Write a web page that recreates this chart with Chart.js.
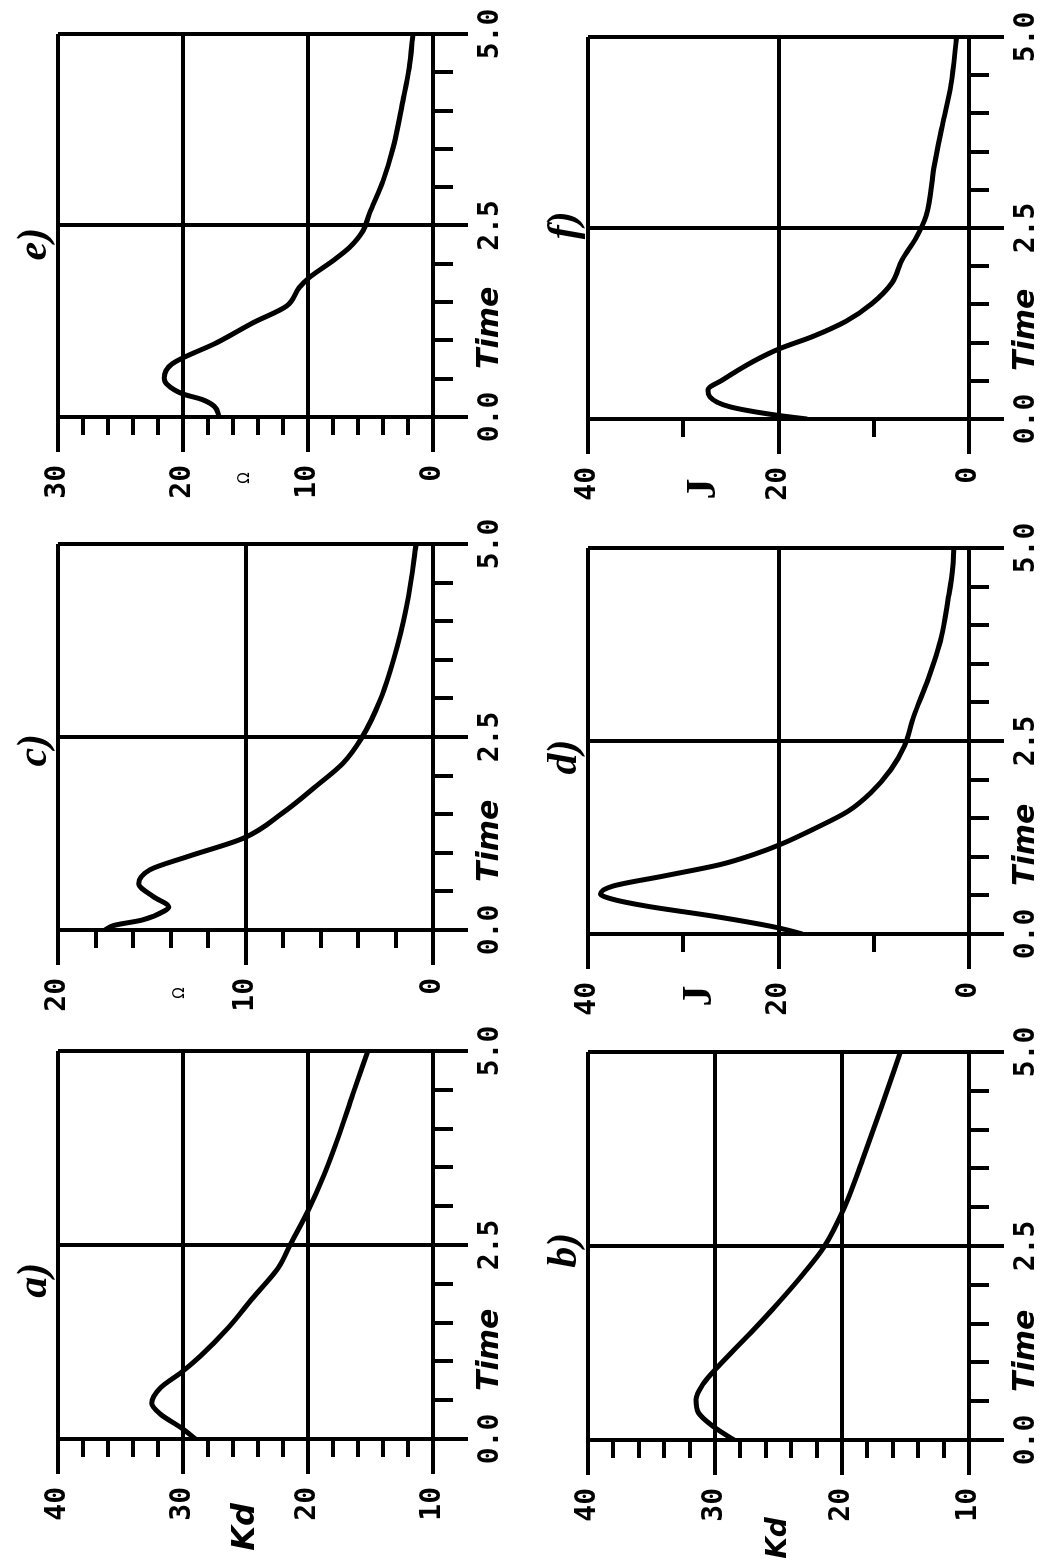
<!DOCTYPE html>
<html>
<head>
<meta charset="utf-8">
<title>Kd, Omega and J against time</title>
<script src="https://cdn.jsdelivr.net/npm/chart.js@4.4.0/dist/chart.umd.min.js"></script>
<style>
    html, body {
        margin: 0;
        padding: 0;
        background: #fff;
        width: 1041px;
        height: 1565px;
        overflow: hidden;
    }
    /* the figure is printed on its side, so the whole sheet is turned */
    #sheet {
        position: absolute;
        left: 0;
        top: 0;
        width: 1565px;
        height: 1041px;
        transform-origin: 0 0;
        transform: translate(0, 1565px) rotate(-90deg);
    }
    .panel {
        position: absolute;
    }
</style>
</head>
<body>
<div id="sheet">
    <canvas id="panel-a" class="panel"></canvas>
    <canvas id="panel-b" class="panel"></canvas>
    <canvas id="panel-c" class="panel"></canvas>
    <canvas id="panel-d" class="panel"></canvas>
    <canvas id="panel-e" class="panel"></canvas>
    <canvas id="panel-f" class="panel"></canvas>
</div>
<script>
// Time axis (shared)
const timeTicks = [0, 0.5, 1.0, 1.5, 2.0, 2.5, 3.0, 3.5, 4.0, 4.5, 5.0];
const timeMajor = [0, 2.5, 5.0];
const timeLabels = ['0.0', '2.5', '5.0'];

// Value axes
const kdTicks = [10, 12, 14, 16, 18, 20, 22, 24, 26, 28, 30, 32, 34, 36, 38, 40];
const kdMajor = [10, 20, 30, 40];
const kdLabels = ['10', '20', '30', '40'];

const omegaCTicks = [0, 2, 4, 6, 8, 10, 12, 14, 16, 18, 20];
const omegaCMajor = [0, 10, 20];
const omegaCLabels = ['0', '10', '20'];

const omegaETicks = [0, 2, 4, 6, 8, 10, 12, 14, 16, 18, 20, 22, 24, 26, 28, 30];
const omegaEMajor = [0, 10, 20, 30];
const omegaELabels = ['0', '10', '20', '30'];

const jTicks = [0, 10, 20, 30, 40];
const jMajor = [0, 20, 40];
const jLabels = ['0', '20', '40'];

// a) Kd
const timeA = [0, 0.14, 0.32, 0.46, 0.66, 0.85, 1.07, 1.43, 1.82, 2.2, 2.51, 2.94, 3.41, 3.88, 4.45, 5.0];
const kdA = [29.0, 30.1, 31.8, 32.5, 31.8, 30.2, 28.6, 26.4, 24.4, 22.4, 21.4, 20.0, 18.7, 17.6, 16.4, 15.2];

// b) Kd
const timeB = [0, 0.17, 0.35, 0.52, 0.73, 0.94, 1.38, 1.77, 2.15, 2.49, 3.0, 3.65, 4.29, 5.0];
const kdB = [28.5, 30.1, 31.3, 31.5, 30.9, 29.8, 27.2, 25.0, 23.0, 21.4, 19.8, 18.3, 16.9, 15.4];

// c) Omega
const timeC = [0, 0.06, 0.13, 0.25, 0.3, 0.43, 0.6, 0.78, 0.95, 1.19, 1.52, 1.87, 2.16, 2.49, 2.99, 3.68, 4.33, 5.0];
const omegaC = [17.5, 17.0, 15.5, 14.3, 14.1, 14.9, 15.7, 15.1, 13.1, 10.1, 8.0, 6.2, 4.8, 3.8, 2.8, 1.9, 1.3, 0.9];

// d) J
const timeD = [0, 0.05, 0.1, 0.23, 0.36, 0.45, 0.52, 0.62, 0.75, 0.9, 1.03, 1.16, 1.36, 1.59, 1.83, 2.13, 2.43, 2.82, 3.3, 3.85, 4.33, 4.75, 5.0];
const jD = [17.5, 19.0, 20.8, 26.8, 33.8, 37.4, 38.7, 37.4, 32.1, 26.1, 22.6, 19.8, 16.3, 12.7, 10.3, 8.2, 6.8, 5.8, 4.3, 2.9, 2.2, 1.7, 1.6];

// e) Omega
const timeE = [0, 0.14, 0.23, 0.3, 0.43, 0.51, 0.69, 0.97, 1.23, 1.45, 1.69, 1.82, 2.04, 2.21, 2.43, 2.65, 3.08, 3.51, 4.13, 4.56, 5.0];
const omegaE = [17.1, 17.5, 18.5, 20.0, 21.3, 21.5, 20.9, 17.3, 14.4, 11.7, 10.7, 9.9, 8.0, 6.7, 5.6, 5.1, 4.0, 3.2, 2.4, 1.9, 1.6];

// f) J
const timeF = [0, 0.05, 0.16, 0.29, 0.38, 0.51, 0.75, 0.92, 1.08, 1.28, 1.51, 1.78, 2.09, 2.36, 2.66, 3.28, 3.84, 4.37, 5.0];
const jF = [17.0, 20.2, 25.1, 27.2, 27.4, 25.9, 22.7, 19.9, 16.4, 12.9, 10.2, 8.1, 7.0, 5.6, 4.5, 3.7, 2.8, 1.9, 1.3];

// Layout of the six plot frames on the unturned sheet
const panels = [
    { id: 'panel-a', label: 'a)', labelAt: 2.27, title: 'Kd', titleAt: 25, titleOffset: 88, titleFont: 'italic bold 32px "DejaVu Sans"',
      time: timeA, values: kdA, ticks: kdTicks, major: kdMajor, labels: kdLabels,
      area: { left: 126, top: 58, width: 388, height: 375 } },
    { id: 'panel-b', label: 'b)', labelAt: 2.67, title: 'Kd', titleAt: 25, titleOffset: 98, titleFont: 'italic bold 28px "DejaVu Sans"',
      time: timeB, values: kdB, ticks: kdTicks, major: kdMajor, labels: kdLabels,
      area: { left: 125, top: 588, width: 388, height: 381 } },
    { id: 'panel-c', label: 'c)', labelAt: 2.54, title: 'Ω', titleAt: 13.5, titleOffset: 63, titleFont: '15px "DejaVu Sans"',
      time: timeC, values: omegaC, ticks: omegaCTicks, major: omegaCMajor, labels: omegaCLabels,
      area: { left: 635, top: 58, width: 386, height: 375 } },
    { id: 'panel-d', label: 'd)', labelAt: 2.52, title: 'J', titleAt: 28.2, titleOffset: 62, titleFont: 'bold 42px "Liberation Serif"',
      time: timeD, values: jD, ticks: jTicks, major: jMajor, labels: jLabels,
      area: { left: 631, top: 588, width: 386, height: 381 } },
    { id: 'panel-e', label: 'e)', labelAt: 2.47, title: 'Ω', titleAt: 15, titleOffset: 61, titleFont: '15px "DejaVu Sans"',
      time: timeE, values: omegaE, ticks: omegaETicks, major: omegaEMajor, labels: omegaELabels,
      area: { left: 1148, top: 58, width: 383, height: 375 } },
    { id: 'panel-f', label: 'f)', labelAt: 2.72, title: 'J', titleAt: 27.8, titleOffset: 70, titleFont: 'bold 42px "Liberation Serif"',
      time: timeF, values: jF, ticks: jTicks, major: jMajor, labels: jLabels,
      area: { left: 1146, top: 588, width: 382, height: 381 } }
];

const PAD_LEFT = 15;
const Y_AXIS_WIDTH = 110;
const PAD_TOP = 58;
const PAD_RIGHT = 35;
const X_AXIS_HEIGHT = 72;

const tickFont = { family: 'DejaVu Sans Mono', size: 28, weight: 'bold' };

// Is this value one of the long (labelled) ticks?
function isMajor(value, majors) {
    return majors.some(m => Math.abs(m - value) < 1e-6);
}

function labelFor(value, majors, labels) {
    const i = majors.findIndex(m => Math.abs(m - value) < 1e-6);
    return i >= 0 ? labels[i] : '';
}

// Panel letter, value name and "Time" are drawn next to the axes
const panelText = {
    id: 'panelText',
    afterDraw(chart, args, opts) {
        const { ctx, chartArea } = chart;
        const xScale = chart.scales.x;
        const yScale = chart.scales.y;
        ctx.save();
        ctx.fillStyle = '#000';

        ctx.font = 'italic bold 42px "Liberation Serif"';
        ctx.textAlign = 'right';
        ctx.textBaseline = 'bottom';
        ctx.fillText(opts.label, xScale.getPixelForValue(opts.labelAt), chartArea.top - 2);

        ctx.font = opts.titleFont;
        ctx.textAlign = 'center';
        ctx.textBaseline = 'middle';
        ctx.fillText(opts.title, chartArea.left - opts.titleOffset, yScale.getPixelForValue(opts.titleAt));

        ctx.font = 'italic bold 30px "DejaVu Sans"';
        ctx.textAlign = 'left';
        ctx.fillText('Time', xScale.getPixelForValue(0) + 48, chartArea.bottom + 57);
        ctx.restore();
    }
};

// minorDash keeps only the 18px next to the frame of the 35px tick line
function gridFor(majors, minorDash) {
    return {
        color: c => (c.tick && isMajor(c.tick.value, majors)) ? '#000' : 'rgba(0,0,0,0)',
        lineWidth: 4,
        borderDash: [],
        drawTicks: true,
        tickLength: 35,
        tickColor: '#000',
        tickWidth: 4,
        tickBorderDash: c => (c.tick && isMajor(c.tick.value, majors)) ? [] : minorDash
    };
}

function makePanel(p) {
    const canvas = document.getElementById(p.id);
    const w = p.area.width + PAD_LEFT + Y_AXIS_WIDTH + PAD_RIGHT;
    const h = p.area.height + PAD_TOP + X_AXIS_HEIGHT;
    canvas.width = w;
    canvas.height = h;
    canvas.style.width = w + 'px';
    canvas.style.height = h + 'px';
    canvas.style.left = (p.area.left - PAD_LEFT - Y_AXIS_WIDTH) + 'px';
    canvas.style.top = (p.area.top - PAD_TOP) + 'px';

    const points = p.time.map((t, i) => ({ x: t, y: p.values[i] }));
    const vMin = p.ticks[0];
    const vMax = p.ticks[p.ticks.length - 1];

    return new Chart(canvas.getContext('2d'), {
        type: 'line',
        data: {
            datasets: [{
                data: points,
                borderColor: '#000',
                borderWidth: 5,
                pointRadius: 0,
                fill: false,
                cubicInterpolationMode: 'monotone'
            }]
        },
        options: {
            responsive: false,
            animation: false,
            layout: {
                padding: { left: PAD_LEFT, top: PAD_TOP, right: PAD_RIGHT, bottom: 0 }
            },
            plugins: {
                legend: { display: false },
                tooltip: { enabled: false },
                panelText: {
                    label: p.label,
                    labelAt: p.labelAt,
                    title: p.title,
                    titleAt: p.titleAt,
                    titleOffset: p.titleOffset,
                    titleFont: p.titleFont
                }
            },
            scales: {
                x: {
                    type: 'linear',
                    min: 0,
                    max: 5,
                    afterBuildTicks: s => { s.ticks = timeTicks.map(v => ({ value: v })); },
                    afterFit: s => { s.height = X_AXIS_HEIGHT; },
                    grid: gridFor(timeMajor, [18, 100]),
                    border: { display: true, color: '#000', width: 4 },
                    ticks: {
                        autoSkip: false,
                        maxRotation: 0,
                        minRotation: 0,
                        padding: 6,
                        color: '#000',
                        font: tickFont,
                        callback: v => labelFor(v, timeMajor, timeLabels)
                    }
                },
                y: {
                    type: 'linear',
                    min: vMin,
                    max: vMax,
                    afterBuildTicks: s => { s.ticks = p.ticks.map(v => ({ value: v })); },
                    afterFit: s => { s.width = Y_AXIS_WIDTH; },
                    // the left axis draws its tick lines from the outer end inwards
                    grid: gridFor(p.major, [0, 17, 18, 100]),
                    border: { display: true, color: '#000', width: 4 },
                    ticks: {
                        autoSkip: false,
                        padding: 13,
                        color: '#000',
                        font: tickFont,
                        callback: v => labelFor(v, p.major, p.labels)
                    }
                }
            }
        },
        plugins: [panelText]
    });
}

document.addEventListener('DOMContentLoaded', function() {
    panels.forEach(makePanel);
});
</script>
</body>
</html>
